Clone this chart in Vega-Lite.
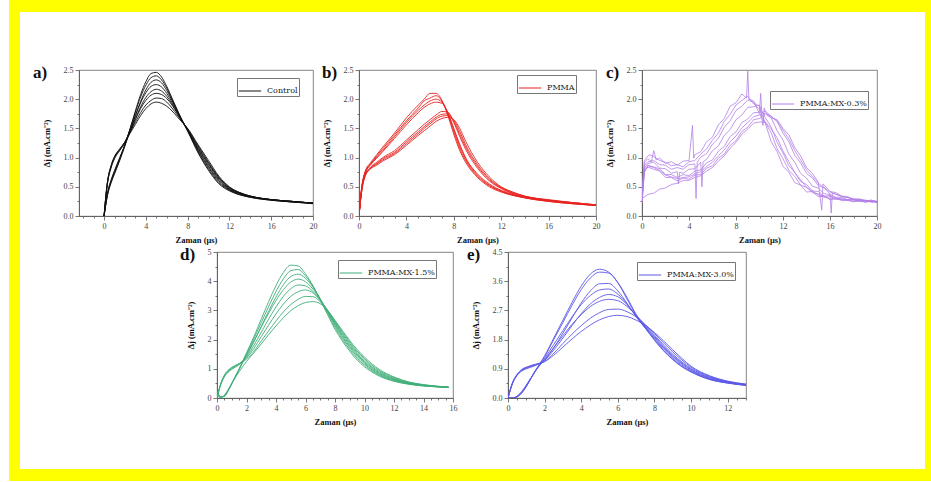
{
"$schema": "https://vega.github.io/schema/vega-lite/v6.json",
"background": "white",
"padding": {"left": 6, "top": 0, "right": 0, "bottom": 0},
"config": {
 "view": {"stroke": "#666666", "strokeWidth": 0.8},
 "axis": {"grid": false, "domainColor": "#555555", "tickColor": "#555555", "domainWidth": 0.8, "tickWidth": 0.8, "labelFont": "Liberation Serif", "labelFontSize": 8, "labelColor": "#444444", "labelPadding": 2, "labelOverlap": false, "labelFlush": false, "labelBound": false, "titleFont": "Liberation Serif", "titleFontSize": 8.5, "titleFontWeight": "bold", "titleColor": "#111111"},
 "axisX": {"titlePadding": 5},
 "axisY": {"titlePadding": 12},
 "title": {"font": "Liberation Serif", "fontSize": 17, "fontWeight": "bold", "color": "#111111", "anchor": "start", "frame": "group", "offset": 0},
 "legend": {"labelFont": "DejaVu Serif", "labelFontSize": 8, "labelColor": "#222222", "symbolType": "stroke", "symbolSize": 500, "symbolStrokeWidth": 1, "strokeColor": "#777777", "padding": 1, "labelOffset": 5}
},
"datasets": {
"a": [
{"c":1,"t":0,"j":0},{"c":1,"t":0.3,"j":0.33},{"c":1,"t":0.7,"j":0.58},{"c":1,"t":1,"j":0.72},{"c":1,"t":1.5,"j":0.95},{"c":1,"t":2,"j":1.2},{"c":1,"t":2.5,"j":1.5},{"c":1,"t":3,"j":1.8},{"c":1,"t":3.5,"j":2.08},{"c":1,"t":4,"j":2.3},{"c":1,"t":4.5,"j":2.44},{"c":1,"t":5,"j":2.46},{"c":1,"t":5.5,"j":2.38},{"c":1,"t":6,"j":2.22},{"c":1,"t":6.5,"j":2.02},{"c":1,"t":7,"j":1.82},{"c":1,"t":7.5,"j":1.62},{"c":1,"t":8,"j":1.45},{"c":1,"t":9,"j":1.08},{"c":1,"t":10,"j":0.78},{"c":1,"t":11,"j":0.55},{"c":1,"t":12,"j":0.43},{"c":1,"t":13,"j":0.36},{"c":1,"t":14,"j":0.32},{"c":1,"t":16,"j":0.27},{"c":1,"t":18,"j":0.24},{"c":1,"t":20,"j":0.21},
{"c":2,"t":0,"j":0},{"c":2,"t":0.3,"j":0.34},{"c":2,"t":0.7,"j":0.6},{"c":2,"t":1,"j":0.74},{"c":2,"t":1.5,"j":0.97},{"c":2,"t":2,"j":1.22},{"c":2,"t":2.5,"j":1.5},{"c":2,"t":3,"j":1.78},{"c":2,"t":3.5,"j":2.04},{"c":2,"t":4,"j":2.24},{"c":2,"t":4.5,"j":2.37},{"c":2,"t":5,"j":2.4},{"c":2,"t":5.5,"j":2.33},{"c":2,"t":6,"j":2.19},{"c":2,"t":6.5,"j":2.0},{"c":2,"t":7,"j":1.81},{"c":2,"t":7.5,"j":1.63},{"c":2,"t":8,"j":1.46},{"c":2,"t":9,"j":1.1},{"c":2,"t":10,"j":0.8},{"c":2,"t":11,"j":0.57},{"c":2,"t":12,"j":0.44},{"c":2,"t":13,"j":0.37},{"c":2,"t":14,"j":0.32},{"c":2,"t":16,"j":0.27},{"c":2,"t":18,"j":0.24},{"c":2,"t":20,"j":0.22},
{"c":3,"t":0,"j":0},{"c":3,"t":0.3,"j":0.52},{"c":3,"t":0.7,"j":0.84},{"c":3,"t":1,"j":0.98},{"c":3,"t":1.5,"j":1.12},{"c":3,"t":2,"j":1.26},{"c":3,"t":2.5,"j":1.48},{"c":3,"t":3,"j":1.72},{"c":3,"t":3.5,"j":1.96},{"c":3,"t":4,"j":2.16},{"c":3,"t":4.5,"j":2.29},{"c":3,"t":5,"j":2.33},{"c":3,"t":5.5,"j":2.28},{"c":3,"t":6,"j":2.15},{"c":3,"t":6.5,"j":1.98},{"c":3,"t":7,"j":1.8},{"c":3,"t":7.5,"j":1.63},{"c":3,"t":8,"j":1.47},{"c":3,"t":9,"j":1.12},{"c":3,"t":10,"j":0.83},{"c":3,"t":11,"j":0.59},{"c":3,"t":12,"j":0.45},{"c":3,"t":13,"j":0.37},{"c":3,"t":14,"j":0.33},{"c":3,"t":16,"j":0.28},{"c":3,"t":18,"j":0.24},{"c":3,"t":20,"j":0.22},
{"c":4,"t":0,"j":0},{"c":4,"t":0.3,"j":0.36},{"c":4,"t":0.7,"j":0.62},{"c":4,"t":1,"j":0.76},{"c":4,"t":1.5,"j":0.99},{"c":4,"t":2,"j":1.22},{"c":4,"t":2.5,"j":1.47},{"c":4,"t":3,"j":1.72},{"c":4,"t":3.5,"j":1.94},{"c":4,"t":4,"j":2.11},{"c":4,"t":4.5,"j":2.22},{"c":4,"t":5,"j":2.25},{"c":4,"t":5.5,"j":2.21},{"c":4,"t":6,"j":2.1},{"c":4,"t":6.5,"j":1.95},{"c":4,"t":7,"j":1.78},{"c":4,"t":7.5,"j":1.62},{"c":4,"t":8,"j":1.47},{"c":4,"t":9,"j":1.14},{"c":4,"t":10,"j":0.85},{"c":4,"t":11,"j":0.61},{"c":4,"t":12,"j":0.46},{"c":4,"t":13,"j":0.38},{"c":4,"t":14,"j":0.33},{"c":4,"t":16,"j":0.28},{"c":4,"t":18,"j":0.25},{"c":4,"t":20,"j":0.22},
{"c":5,"t":0,"j":0},{"c":5,"t":0.3,"j":0.54},{"c":5,"t":0.7,"j":0.86},{"c":5,"t":1,"j":1.0},{"c":5,"t":1.5,"j":1.13},{"c":5,"t":2,"j":1.26},{"c":5,"t":2.5,"j":1.46},{"c":5,"t":3,"j":1.67},{"c":5,"t":3.5,"j":1.87},{"c":5,"t":4,"j":2.03},{"c":5,"t":4.5,"j":2.13},{"c":5,"t":5,"j":2.17},{"c":5,"t":5.5,"j":2.14},{"c":5,"t":6,"j":2.05},{"c":5,"t":6.5,"j":1.92},{"c":5,"t":7,"j":1.77},{"c":5,"t":7.5,"j":1.62},{"c":5,"t":8,"j":1.48},{"c":5,"t":9,"j":1.16},{"c":5,"t":10,"j":0.88},{"c":5,"t":11,"j":0.63},{"c":5,"t":12,"j":0.47},{"c":5,"t":13,"j":0.39},{"c":5,"t":14,"j":0.34},{"c":5,"t":16,"j":0.28},{"c":5,"t":18,"j":0.25},{"c":5,"t":20,"j":0.22},
{"c":6,"t":0,"j":0},{"c":6,"t":0.3,"j":0.37},{"c":6,"t":0.7,"j":0.63},{"c":6,"t":1,"j":0.78},{"c":6,"t":1.5,"j":1.0},{"c":6,"t":2,"j":1.22},{"c":6,"t":2.5,"j":1.44},{"c":6,"t":3,"j":1.65},{"c":6,"t":3.5,"j":1.84},{"c":6,"t":4,"j":1.98},{"c":6,"t":4.5,"j":2.07},{"c":6,"t":5,"j":2.1},{"c":6,"t":5.5,"j":2.08},{"c":6,"t":6,"j":2.01},{"c":6,"t":6.5,"j":1.9},{"c":6,"t":7,"j":1.76},{"c":6,"t":7.5,"j":1.62},{"c":6,"t":8,"j":1.48},{"c":6,"t":9,"j":1.18},{"c":6,"t":10,"j":0.9},{"c":6,"t":11,"j":0.65},{"c":6,"t":12,"j":0.48},{"c":6,"t":13,"j":0.39},{"c":6,"t":14,"j":0.34},{"c":6,"t":16,"j":0.28},{"c":6,"t":18,"j":0.25},{"c":6,"t":20,"j":0.22},
{"c":7,"t":0,"j":0},{"c":7,"t":0.3,"j":0.55},{"c":7,"t":0.7,"j":0.87},{"c":7,"t":1,"j":1.01},{"c":7,"t":1.5,"j":1.14},{"c":7,"t":2,"j":1.27},{"c":7,"t":2.5,"j":1.44},{"c":7,"t":3,"j":1.61},{"c":7,"t":3.5,"j":1.77},{"c":7,"t":4,"j":1.9},{"c":7,"t":4.5,"j":1.98},{"c":7,"t":5,"j":2.02},{"c":7,"t":5.5,"j":2.01},{"c":7,"t":6,"j":1.95},{"c":7,"t":6.5,"j":1.85},{"c":7,"t":7,"j":1.73},{"c":7,"t":7.5,"j":1.61},{"c":7,"t":8,"j":1.49},{"c":7,"t":9,"j":1.2},{"c":7,"t":10,"j":0.92},{"c":7,"t":11,"j":0.66},{"c":7,"t":12,"j":0.49},{"c":7,"t":13,"j":0.4},{"c":7,"t":14,"j":0.34},{"c":7,"t":16,"j":0.28},{"c":7,"t":18,"j":0.25},{"c":7,"t":20,"j":0.22},
{"c":8,"t":0,"j":0},{"c":8,"t":0.3,"j":0.55},{"c":8,"t":0.7,"j":0.88},{"c":8,"t":1,"j":1.02},{"c":8,"t":1.5,"j":1.15},{"c":8,"t":2,"j":1.27},{"c":8,"t":2.5,"j":1.42},{"c":8,"t":3,"j":1.57},{"c":8,"t":3.5,"j":1.72},{"c":8,"t":4,"j":1.84},{"c":8,"t":4.5,"j":1.92},{"c":8,"t":5,"j":1.95},{"c":8,"t":5.5,"j":1.93},{"c":8,"t":6,"j":1.88},{"c":8,"t":6.5,"j":1.8},{"c":8,"t":7,"j":1.7},{"c":8,"t":7.5,"j":1.6},{"c":8,"t":8,"j":1.5},{"c":8,"t":9,"j":1.22},{"c":8,"t":10,"j":0.95},{"c":8,"t":11,"j":0.68},{"c":8,"t":12,"j":0.5},{"c":8,"t":13,"j":0.4},{"c":8,"t":14,"j":0.34},{"c":8,"t":16,"j":0.28},{"c":8,"t":18,"j":0.25},{"c":8,"t":20,"j":0.22}
],
"b": [
{"c":1,"t":0,"j":0},{"c":1,"t":0.2,"j":0.45},{"c":1,"t":0.5,"j":0.75},{"c":1,"t":1,"j":0.92},{"c":1,"t":1.5,"j":1.05},{"c":1,"t":2,"j":1.18},{"c":1,"t":3,"j":1.42},{"c":1,"t":4,"j":1.68},{"c":1,"t":5,"j":1.9},{"c":1,"t":5.5,"j":2.0},{"c":1,"t":6,"j":2.1},{"c":1,"t":6.5,"j":2.1},{"c":1,"t":7,"j":1.98},{"c":1,"t":7.5,"j":1.72},{"c":1,"t":8,"j":1.4},{"c":1,"t":8.5,"j":1.12},{"c":1,"t":9,"j":0.92},{"c":1,"t":10,"j":0.66},{"c":1,"t":11,"j":0.5},{"c":1,"t":12,"j":0.41},{"c":1,"t":13,"j":0.35},{"c":1,"t":14,"j":0.31},{"c":1,"t":16,"j":0.25},{"c":1,"t":18,"j":0.21},{"c":1,"t":20,"j":0.18},
{"c":2,"t":0,"j":0},{"c":2,"t":0.2,"j":0.44},{"c":2,"t":0.5,"j":0.74},{"c":2,"t":1,"j":0.9},{"c":2,"t":1.5,"j":1.03},{"c":2,"t":2,"j":1.15},{"c":2,"t":3,"j":1.39},{"c":2,"t":4,"j":1.63},{"c":2,"t":5,"j":1.85},{"c":2,"t":5.5,"j":1.97},{"c":2,"t":6,"j":2.02},{"c":2,"t":6.5,"j":2.06},{"c":2,"t":7,"j":1.97},{"c":2,"t":7.5,"j":1.74},{"c":2,"t":8,"j":1.44},{"c":2,"t":8.5,"j":1.16},{"c":2,"t":9,"j":0.95},{"c":2,"t":10,"j":0.68},{"c":2,"t":11,"j":0.52},{"c":2,"t":12,"j":0.42},{"c":2,"t":13,"j":0.36},{"c":2,"t":14,"j":0.31},{"c":2,"t":16,"j":0.25},{"c":2,"t":18,"j":0.21},{"c":2,"t":20,"j":0.18},
{"c":3,"t":0,"j":0},{"c":3,"t":0.2,"j":0.43},{"c":3,"t":0.5,"j":0.73},{"c":3,"t":1,"j":0.89},{"c":3,"t":1.5,"j":1.01},{"c":3,"t":2,"j":1.12},{"c":3,"t":3,"j":1.36},{"c":3,"t":4,"j":1.6},{"c":3,"t":5,"j":1.81},{"c":3,"t":5.5,"j":1.9},{"c":3,"t":6,"j":1.97},{"c":3,"t":6.5,"j":2.0},{"c":3,"t":7,"j":1.95},{"c":3,"t":7.5,"j":1.76},{"c":3,"t":8,"j":1.48},{"c":3,"t":8.5,"j":1.2},{"c":3,"t":9,"j":0.98},{"c":3,"t":10,"j":0.7},{"c":3,"t":11,"j":0.53},{"c":3,"t":12,"j":0.43},{"c":3,"t":13,"j":0.36},{"c":3,"t":14,"j":0.32},{"c":3,"t":16,"j":0.26},{"c":3,"t":18,"j":0.22},{"c":3,"t":20,"j":0.18},
{"c":4,"t":0,"j":0},{"c":4,"t":0.2,"j":0.42},{"c":4,"t":0.5,"j":0.72},{"c":4,"t":1,"j":0.88},{"c":4,"t":1.5,"j":0.99},{"c":4,"t":2,"j":1.1},{"c":4,"t":3,"j":1.33},{"c":4,"t":4,"j":1.56},{"c":4,"t":5,"j":1.77},{"c":4,"t":5.5,"j":1.86},{"c":4,"t":6,"j":1.92},{"c":4,"t":6.5,"j":1.95},{"c":4,"t":7,"j":1.93},{"c":4,"t":7.5,"j":1.77},{"c":4,"t":8,"j":1.5},{"c":4,"t":8.5,"j":1.23},{"c":4,"t":9,"j":1.0},{"c":4,"t":10,"j":0.72},{"c":4,"t":11,"j":0.55},{"c":4,"t":12,"j":0.44},{"c":4,"t":13,"j":0.37},{"c":4,"t":14,"j":0.32},{"c":4,"t":16,"j":0.26},{"c":4,"t":18,"j":0.22},{"c":4,"t":20,"j":0.18},
{"c":5,"t":0,"j":0},{"c":5,"t":0.2,"j":0.4},{"c":5,"t":0.5,"j":0.7},{"c":5,"t":1,"j":0.84},{"c":5,"t":1.5,"j":0.92},{"c":5,"t":2,"j":1.0},{"c":5,"t":3,"j":1.12},{"c":5,"t":4,"j":1.3},{"c":5,"t":5,"j":1.48},{"c":5,"t":5.5,"j":1.57},{"c":5,"t":6,"j":1.65},{"c":5,"t":6.5,"j":1.73},{"c":5,"t":7,"j":1.79},{"c":5,"t":7.5,"j":1.78},{"c":5,"t":8,"j":1.6},{"c":5,"t":8.5,"j":1.36},{"c":5,"t":9,"j":1.14},{"c":5,"t":10,"j":0.82},{"c":5,"t":11,"j":0.6},{"c":5,"t":12,"j":0.47},{"c":5,"t":13,"j":0.38},{"c":5,"t":14,"j":0.33},{"c":5,"t":16,"j":0.27},{"c":5,"t":18,"j":0.22},{"c":5,"t":20,"j":0.19},
{"c":6,"t":0,"j":0},{"c":6,"t":0.2,"j":0.4},{"c":6,"t":0.5,"j":0.69},{"c":6,"t":1,"j":0.83},{"c":6,"t":1.5,"j":0.9},{"c":6,"t":2,"j":0.98},{"c":6,"t":3,"j":1.09},{"c":6,"t":4,"j":1.27},{"c":6,"t":5,"j":1.44},{"c":6,"t":5.5,"j":1.53},{"c":6,"t":6,"j":1.61},{"c":6,"t":6.5,"j":1.69},{"c":6,"t":7,"j":1.74},{"c":6,"t":7.5,"j":1.75},{"c":6,"t":8,"j":1.62},{"c":6,"t":8.5,"j":1.4},{"c":6,"t":9,"j":1.18},{"c":6,"t":10,"j":0.85},{"c":6,"t":11,"j":0.62},{"c":6,"t":12,"j":0.48},{"c":6,"t":13,"j":0.39},{"c":6,"t":14,"j":0.33},{"c":6,"t":16,"j":0.27},{"c":6,"t":18,"j":0.23},{"c":6,"t":20,"j":0.19},
{"c":7,"t":0,"j":0},{"c":7,"t":0.2,"j":0.39},{"c":7,"t":0.5,"j":0.68},{"c":7,"t":1,"j":0.82},{"c":7,"t":1.5,"j":0.89},{"c":7,"t":2,"j":0.96},{"c":7,"t":3,"j":1.07},{"c":7,"t":4,"j":1.24},{"c":7,"t":5,"j":1.41},{"c":7,"t":5.5,"j":1.5},{"c":7,"t":6,"j":1.58},{"c":7,"t":6.5,"j":1.66},{"c":7,"t":7,"j":1.71},{"c":7,"t":7.5,"j":1.72},{"c":7,"t":8,"j":1.64},{"c":7,"t":8.5,"j":1.45},{"c":7,"t":9,"j":1.22},{"c":7,"t":10,"j":0.88},{"c":7,"t":11,"j":0.64},{"c":7,"t":12,"j":0.49},{"c":7,"t":13,"j":0.4},{"c":7,"t":14,"j":0.34},{"c":7,"t":16,"j":0.27},{"c":7,"t":18,"j":0.23},{"c":7,"t":20,"j":0.19},
{"c":8,"t":0,"j":0},{"c":8,"t":0.2,"j":0.38},{"c":8,"t":0.5,"j":0.67},{"c":8,"t":1,"j":0.81},{"c":8,"t":1.5,"j":0.87},{"c":8,"t":2,"j":0.94},{"c":8,"t":3,"j":1.05},{"c":8,"t":4,"j":1.21},{"c":8,"t":5,"j":1.38},{"c":8,"t":5.5,"j":1.46},{"c":8,"t":6,"j":1.54},{"c":8,"t":6.5,"j":1.62},{"c":8,"t":7,"j":1.67},{"c":8,"t":7.5,"j":1.69},{"c":8,"t":8,"j":1.65},{"c":8,"t":8.5,"j":1.5},{"c":8,"t":9,"j":1.28},{"c":8,"t":10,"j":0.92},{"c":8,"t":11,"j":0.67},{"c":8,"t":12,"j":0.5},{"c":8,"t":13,"j":0.41},{"c":8,"t":14,"j":0.34},{"c":8,"t":16,"j":0.28},{"c":8,"t":18,"j":0.23},{"c":8,"t":20,"j":0.19}
],
"c": [
{"c":1,"t":0,"j":0.35},{"c":1,"t":0.2,"j":0.92},{"c":1,"t":0.5,"j":0.98},{"c":1,"t":0.8,"j":0.93},{"c":1,"t":1,"j":1.12},{"c":1,"t":1.2,"j":0.96},{"c":1,"t":1.5,"j":0.99},{"c":1,"t":2,"j":0.9},{"c":1,"t":2.5,"j":0.93},{"c":1,"t":3,"j":0.87},{"c":1,"t":3.5,"j":0.94},{"c":1,"t":4,"j":0.95},{"c":1,"t":4.3,"j":1.55},{"c":1,"t":4.4,"j":0.99},{"c":1,"t":4.5,"j":1.05},{"c":1,"t":5,"j":1.1},{"c":1,"t":5.5,"j":1.27},{"c":1,"t":6,"j":1.35},{"c":1,"t":6.5,"j":1.56},{"c":1,"t":7,"j":1.67},{"c":1,"t":7.5,"j":1.88},{"c":1,"t":8,"j":1.94},{"c":1,"t":8.5,"j":2.09},{"c":1,"t":8.9,"j":2.02},{"c":1,"t":9,"j":2.48},{"c":1,"t":9.1,"j":2.0},{"c":1,"t":9.5,"j":1.97},{"c":1,"t":10,"j":1.75},{"c":1,"t":10.5,"j":1.58},{"c":1,"t":11,"j":1.27},{"c":1,"t":11.5,"j":1.1},{"c":1,"t":12,"j":0.85},{"c":1,"t":12.5,"j":0.75},{"c":1,"t":13,"j":0.57},{"c":1,"t":13.5,"j":0.53},{"c":1,"t":14,"j":0.41},{"c":1,"t":14.5,"j":0.42},{"c":1,"t":15,"j":0.33},{"c":1,"t":15.5,"j":0.34},{"c":1,"t":16,"j":0.28},{"c":1,"t":16.5,"j":0.31},{"c":1,"t":17,"j":0.26},{"c":1,"t":17.5,"j":0.28},{"c":1,"t":18,"j":0.24},{"c":1,"t":18.5,"j":0.27},{"c":1,"t":19,"j":0.23},{"c":1,"t":19.5,"j":0.26},{"c":1,"t":20,"j":0.24},
{"c":2,"t":0,"j":0.3},{"c":2,"t":0.2,"j":0.86},{"c":2,"t":0.5,"j":0.93},{"c":2,"t":1,"j":0.95},{"c":2,"t":1.5,"j":0.88},{"c":2,"t":2,"j":0.87},{"c":2,"t":2.5,"j":0.8},{"c":2,"t":3,"j":0.83},{"c":2,"t":3.5,"j":0.8},{"c":2,"t":4,"j":0.88},{"c":2,"t":4.5,"j":0.89},{"c":2,"t":4.6,"j":0.3},{"c":2,"t":4.7,"j":0.92},{"c":2,"t":5,"j":1.01},{"c":2,"t":5.5,"j":1.07},{"c":2,"t":6,"j":1.23},{"c":2,"t":6.5,"j":1.33},{"c":2,"t":7,"j":1.52},{"c":2,"t":7.5,"j":1.63},{"c":2,"t":8,"j":1.81},{"c":2,"t":8.5,"j":1.88},{"c":2,"t":9,"j":1.99},{"c":2,"t":9.5,"j":1.94},{"c":2,"t":10,"j":1.88},{"c":2,"t":10.5,"j":1.68},{"c":2,"t":11,"j":1.52},{"c":2,"t":11.5,"j":1.26},{"c":2,"t":12,"j":1.08},{"c":2,"t":12.5,"j":0.86},{"c":2,"t":13,"j":0.75},{"c":2,"t":13.5,"j":0.59},{"c":2,"t":14,"j":0.54},{"c":2,"t":14.5,"j":0.43},{"c":2,"t":15,"j":0.42},{"c":2,"t":15.5,"j":0.34},{"c":2,"t":16,"j":0.35},{"c":2,"t":16.5,"j":0.3},{"c":2,"t":17,"j":0.3},{"c":2,"t":17.5,"j":0.27},{"c":2,"t":18,"j":0.28},{"c":2,"t":18.5,"j":0.25},{"c":2,"t":19,"j":0.26},{"c":2,"t":19.5,"j":0.24},{"c":2,"t":20,"j":0.25},
{"c":3,"t":0,"j":0.28},{"c":3,"t":0.2,"j":0.82},{"c":3,"t":0.5,"j":0.9},{"c":3,"t":1,"j":0.92},{"c":3,"t":1.5,"j":0.82},{"c":3,"t":2,"j":0.81},{"c":3,"t":2.5,"j":0.73},{"c":3,"t":3,"j":0.76},{"c":3,"t":3.1,"j":0.55},{"c":3,"t":3.2,"j":0.75},{"c":3,"t":3.5,"j":0.73},{"c":3,"t":4,"j":0.8},{"c":3,"t":4.5,"j":0.81},{"c":3,"t":5,"j":0.92},{"c":3,"t":5.1,"j":0.5},{"c":3,"t":5.2,"j":0.93},{"c":3,"t":5.5,"j":0.97},{"c":3,"t":6,"j":1.12},{"c":3,"t":6.5,"j":1.2},{"c":3,"t":7,"j":1.38},{"c":3,"t":7.5,"j":1.48},{"c":3,"t":8,"j":1.65},{"c":3,"t":8.5,"j":1.73},{"c":3,"t":9,"j":1.86},{"c":3,"t":9.5,"j":1.87},{"c":3,"t":10,"j":1.9},{"c":3,"t":10.3,"j":1.55},{"c":3,"t":10.4,"j":1.85},{"c":3,"t":10.5,"j":1.78},{"c":3,"t":11,"j":1.68},{"c":3,"t":11.5,"j":1.46},{"c":3,"t":12,"j":1.3},{"c":3,"t":12.5,"j":1.06},{"c":3,"t":13,"j":0.92},{"c":3,"t":13.5,"j":0.73},{"c":3,"t":14,"j":0.65},{"c":3,"t":14.5,"j":0.51},{"c":3,"t":15,"j":0.48},{"c":3,"t":15.5,"j":0.38},{"c":3,"t":16,"j":0.37},{"c":3,"t":16.5,"j":0.32},{"c":3,"t":17,"j":0.32},{"c":3,"t":17.5,"j":0.28},{"c":3,"t":18,"j":0.29},{"c":3,"t":18.5,"j":0.26},{"c":3,"t":19,"j":0.27},{"c":3,"t":19.5,"j":0.25},{"c":3,"t":20,"j":0.25},
{"c":4,"t":0,"j":0.25},{"c":4,"t":0.2,"j":0.78},{"c":4,"t":0.5,"j":0.87},{"c":4,"t":1,"j":0.84},{"c":4,"t":1.5,"j":0.81},{"c":4,"t":2,"j":0.71},{"c":4,"t":2.5,"j":0.71},{"c":4,"t":3,"j":0.66},{"c":4,"t":3.5,"j":0.71},{"c":4,"t":4,"j":0.69},{"c":4,"t":4.5,"j":0.77},{"c":4,"t":5,"j":0.79},{"c":4,"t":5.5,"j":0.91},{"c":4,"t":6,"j":0.96},{"c":4,"t":6.5,"j":1.11},{"c":4,"t":7,"j":1.19},{"c":4,"t":7.5,"j":1.36},{"c":4,"t":8,"j":1.44},{"c":4,"t":8.5,"j":1.6},{"c":4,"t":9,"j":1.66},{"c":4,"t":9.5,"j":1.77},{"c":4,"t":10,"j":1.77},{"c":4,"t":10.1,"j":2.1},{"c":4,"t":10.2,"j":1.76},{"c":4,"t":10.5,"j":1.8},{"c":4,"t":11,"j":1.7},{"c":4,"t":11.5,"j":1.62},{"c":4,"t":12,"j":1.42},{"c":4,"t":12.5,"j":1.27},{"c":4,"t":13,"j":1.04},{"c":4,"t":13.5,"j":0.91},{"c":4,"t":14,"j":0.73},{"c":4,"t":14.5,"j":0.65},{"c":4,"t":15,"j":0.52},{"c":4,"t":15.5,"j":0.48},{"c":4,"t":16,"j":0.38},{"c":4,"t":16.1,"j":0.05},{"c":4,"t":16.2,"j":0.39},{"c":4,"t":16.5,"j":0.37},{"c":4,"t":17,"j":0.33},{"c":4,"t":17.5,"j":0.32},{"c":4,"t":18,"j":0.28},{"c":4,"t":18.5,"j":0.29},{"c":4,"t":19,"j":0.26},{"c":4,"t":19.5,"j":0.27},{"c":4,"t":20,"j":0.25},
{"c":5,"t":0,"j":0.22},{"c":5,"t":0.2,"j":0.75},{"c":5,"t":0.5,"j":0.84},{"c":5,"t":1,"j":0.8},{"c":5,"t":1.5,"j":0.77},{"c":5,"t":2,"j":0.66},{"c":5,"t":2.5,"j":0.66},{"c":5,"t":3,"j":0.6},{"c":5,"t":3.5,"j":0.65},{"c":5,"t":4,"j":0.63},{"c":5,"t":4.5,"j":0.7},{"c":5,"t":5,"j":0.71},{"c":5,"t":5.5,"j":0.82},{"c":5,"t":6,"j":0.86},{"c":5,"t":6.5,"j":0.99},{"c":5,"t":7,"j":1.06},{"c":5,"t":7.5,"j":1.21},{"c":5,"t":8,"j":1.29},{"c":5,"t":8.5,"j":1.45},{"c":5,"t":9,"j":1.52},{"c":5,"t":9.5,"j":1.65},{"c":5,"t":10,"j":1.67},{"c":5,"t":10.5,"j":1.74},{"c":5,"t":11,"j":1.68},{"c":5,"t":11.5,"j":1.65},{"c":5,"t":12,"j":1.5},{"c":5,"t":12.5,"j":1.39},{"c":5,"t":13,"j":1.17},{"c":5,"t":13.5,"j":1.03},{"c":5,"t":14,"j":0.83},{"c":5,"t":14.5,"j":0.73},{"c":5,"t":15,"j":0.58},{"c":5,"t":15.3,"j":0.1},{"c":5,"t":15.4,"j":0.55},{"c":5,"t":15.5,"j":0.53},{"c":5,"t":16,"j":0.42},{"c":5,"t":16.5,"j":0.4},{"c":5,"t":17,"j":0.34},{"c":5,"t":17.5,"j":0.33},{"c":5,"t":18,"j":0.29},{"c":5,"t":18.5,"j":0.29},{"c":5,"t":19,"j":0.26},{"c":5,"t":19.5,"j":0.27},{"c":5,"t":20,"j":0.24},
{"c":6,"t":0,"j":0.3},{"c":6,"t":0.5,"j":0.37},{"c":6,"t":1,"j":0.39},{"c":6,"t":1.5,"j":0.46},{"c":6,"t":2,"j":0.48},{"c":6,"t":2.5,"j":0.54},{"c":6,"t":3,"j":0.56},{"c":6,"t":3.5,"j":0.61},{"c":6,"t":4,"j":0.61},{"c":6,"t":4.5,"j":0.66},{"c":6,"t":5,"j":0.69},{"c":6,"t":5.5,"j":0.77},{"c":6,"t":6,"j":0.83},{"c":6,"t":6.5,"j":0.94},{"c":6,"t":7,"j":1.03},{"c":6,"t":7.5,"j":1.16},{"c":6,"t":8,"j":1.26},{"c":6,"t":8.5,"j":1.4},{"c":6,"t":9,"j":1.49},{"c":6,"t":9.5,"j":1.59},{"c":6,"t":10,"j":1.61},{"c":6,"t":10.5,"j":1.61},{"c":6,"t":11,"j":1.49},{"c":6,"t":11.5,"j":1.34},{"c":6,"t":12,"j":1.11},{"c":6,"t":12.5,"j":0.93},{"c":6,"t":13,"j":0.74},{"c":6,"t":13.5,"j":0.62},{"c":6,"t":14,"j":0.49},{"c":6,"t":14.5,"j":0.43},{"c":6,"t":15,"j":0.36},{"c":6,"t":15.5,"j":0.34},{"c":6,"t":16,"j":0.29},{"c":6,"t":17,"j":0.28},{"c":6,"t":18,"j":0.25},{"c":6,"t":19,"j":0.26},{"c":6,"t":20,"j":0.23},
{"c":7,"t":0,"j":0.32},{"c":7,"t":0.2,"j":0.95},{"c":7,"t":0.6,"j":1.05},{"c":7,"t":1,"j":1.02},{"c":7,"t":1.5,"j":0.95},{"c":7,"t":2,"j":0.92},{"c":7,"t":2.5,"j":0.86},{"c":7,"t":3,"j":0.88},{"c":7,"t":3.5,"j":0.84},{"c":7,"t":4,"j":0.93},{"c":7,"t":4.5,"j":0.95},{"c":7,"t":5,"j":1.06},{"c":7,"t":5.5,"j":1.15},{"c":7,"t":6,"j":1.3},{"c":7,"t":6.5,"j":1.42},{"c":7,"t":7,"j":1.62},{"c":7,"t":7.5,"j":1.74},{"c":7,"t":8,"j":1.9},{"c":7,"t":8.5,"j":1.98},{"c":7,"t":9,"j":2.05},{"c":7,"t":9.5,"j":1.92},{"c":7,"t":10,"j":1.83},{"c":7,"t":10.5,"j":1.6},{"c":7,"t":11,"j":1.42},{"c":7,"t":11.5,"j":1.15},{"c":7,"t":12,"j":0.98},{"c":7,"t":12.5,"j":0.78},{"c":7,"t":13,"j":0.68},{"c":7,"t":13.5,"j":0.53},{"c":7,"t":14,"j":0.49},{"c":7,"t":14.5,"j":0.4},{"c":7,"t":15,"j":0.38},{"c":7,"t":15.5,"j":0.32},{"c":7,"t":16,"j":0.33},{"c":7,"t":17,"j":0.28},{"c":7,"t":18,"j":0.27},{"c":7,"t":19,"j":0.25},{"c":7,"t":20,"j":0.24},
{"c":8,"t":0,"j":0.24},{"c":8,"t":0.2,"j":0.76},{"c":8,"t":0.5,"j":0.86},{"c":8,"t":1,"j":0.83},{"c":8,"t":1.5,"j":0.78},{"c":8,"t":2,"j":0.7},{"c":8,"t":2.5,"j":0.67},{"c":8,"t":3,"j":0.64},{"c":8,"t":3.5,"j":0.66},{"c":8,"t":4,"j":0.67},{"c":8,"t":4.5,"j":0.72},{"c":8,"t":5,"j":0.76},{"c":8,"t":5.5,"j":0.85},{"c":8,"t":6,"j":0.92},{"c":8,"t":6.5,"j":1.03},{"c":8,"t":7,"j":1.13},{"c":8,"t":7.5,"j":1.27},{"c":8,"t":8,"j":1.37},{"c":8,"t":8.5,"j":1.51},{"c":8,"t":9,"j":1.6},{"c":8,"t":9.5,"j":1.7},{"c":8,"t":10,"j":1.73},{"c":8,"t":10.5,"j":1.76},{"c":8,"t":11,"j":1.71},{"c":8,"t":11.5,"j":1.62},{"c":8,"t":12,"j":1.47},{"c":8,"t":12.5,"j":1.32},{"c":8,"t":13,"j":1.12},{"c":8,"t":13.5,"j":0.96},{"c":8,"t":14,"j":0.79},{"c":8,"t":14.5,"j":0.68},{"c":8,"t":15,"j":0.56},{"c":8,"t":15.5,"j":0.49},{"c":8,"t":16,"j":0.41},{"c":8,"t":17,"j":0.34},{"c":8,"t":18,"j":0.29},{"c":8,"t":19,"j":0.27},{"c":8,"t":20,"j":0.25}
],
"d": [
{"c":1,"t":0,"j":0.25},{"c":1,"t":0.25,"j":0.05},{"c":1,"t":0.5,"j":0.05},{"c":1,"t":0.75,"j":0.25},{"c":1,"t":1,"j":0.5},{"c":1,"t":1.5,"j":1.0},{"c":1,"t":2,"j":1.55},{"c":1,"t":2.5,"j":2.1},{"c":1,"t":3,"j":2.7},{"c":1,"t":3.5,"j":3.3},{"c":1,"t":4,"j":3.85},{"c":1,"t":4.5,"j":4.3},{"c":1,"t":5,"j":4.55},{"c":1,"t":5.5,"j":4.52},{"c":1,"t":6,"j":4.25},{"c":1,"t":6.5,"j":3.85},{"c":1,"t":7,"j":3.35},{"c":1,"t":7.5,"j":2.85},{"c":1,"t":8,"j":2.35},{"c":1,"t":8.5,"j":1.95},{"c":1,"t":9,"j":1.6},{"c":1,"t":9.5,"j":1.3},{"c":1,"t":10,"j":1.07},{"c":1,"t":11,"j":0.75},{"c":1,"t":12,"j":0.57},{"c":1,"t":13,"j":0.47},{"c":1,"t":14,"j":0.41},{"c":1,"t":15,"j":0.38},{"c":1,"t":15.7,"j":0.36},
{"c":2,"t":0,"j":0.2},{"c":2,"t":0.25,"j":0.03},{"c":2,"t":0.5,"j":0.06},{"c":2,"t":0.75,"j":0.24},{"c":2,"t":1,"j":0.48},{"c":2,"t":1.5,"j":0.97},{"c":2,"t":2,"j":1.5},{"c":2,"t":2.5,"j":2.03},{"c":2,"t":3,"j":2.58},{"c":2,"t":3.5,"j":3.13},{"c":2,"t":4,"j":3.65},{"c":2,"t":4.5,"j":4.08},{"c":2,"t":5,"j":4.36},{"c":2,"t":5.5,"j":4.4},{"c":2,"t":6,"j":4.18},{"c":2,"t":6.5,"j":3.83},{"c":2,"t":7,"j":3.38},{"c":2,"t":7.5,"j":2.9},{"c":2,"t":8,"j":2.42},{"c":2,"t":8.5,"j":2.01},{"c":2,"t":9,"j":1.66},{"c":2,"t":9.5,"j":1.36},{"c":2,"t":10,"j":1.12},{"c":2,"t":11,"j":0.78},{"c":2,"t":12,"j":0.59},{"c":2,"t":13,"j":0.48},{"c":2,"t":14,"j":0.42},{"c":2,"t":15,"j":0.38},{"c":2,"t":15.7,"j":0.36},
{"c":3,"t":0,"j":0},{"c":3,"t":0.25,"j":0.45},{"c":3,"t":0.5,"j":0.72},{"c":3,"t":0.75,"j":0.88},{"c":3,"t":1,"j":0.98},{"c":3,"t":1.5,"j":1.15},{"c":3,"t":2,"j":1.45},{"c":3,"t":2.5,"j":1.92},{"c":3,"t":3,"j":2.45},{"c":3,"t":3.5,"j":2.97},{"c":3,"t":4,"j":3.46},{"c":3,"t":4.5,"j":3.88},{"c":3,"t":5,"j":4.16},{"c":3,"t":5.5,"j":4.24},{"c":3,"t":6,"j":4.1},{"c":3,"t":6.5,"j":3.8},{"c":3,"t":7,"j":3.4},{"c":3,"t":7.5,"j":2.94},{"c":3,"t":8,"j":2.48},{"c":3,"t":8.5,"j":2.07},{"c":3,"t":9,"j":1.72},{"c":3,"t":9.5,"j":1.42},{"c":3,"t":10,"j":1.17},{"c":3,"t":11,"j":0.81},{"c":3,"t":12,"j":0.61},{"c":3,"t":13,"j":0.49},{"c":3,"t":14,"j":0.42},{"c":3,"t":15,"j":0.38},{"c":3,"t":15.7,"j":0.36},
{"c":4,"t":0,"j":0.15},{"c":4,"t":0.25,"j":0.02},{"c":4,"t":0.5,"j":0.08},{"c":4,"t":0.75,"j":0.26},{"c":4,"t":1,"j":0.5},{"c":4,"t":1.5,"j":0.98},{"c":4,"t":2,"j":1.47},{"c":4,"t":2.5,"j":1.95},{"c":4,"t":3,"j":2.43},{"c":4,"t":3.5,"j":2.9},{"c":4,"t":4,"j":3.34},{"c":4,"t":4.5,"j":3.71},{"c":4,"t":5,"j":3.97},{"c":4,"t":5.5,"j":4.07},{"c":4,"t":6,"j":3.98},{"c":4,"t":6.5,"j":3.73},{"c":4,"t":7,"j":3.38},{"c":4,"t":7.5,"j":2.97},{"c":4,"t":8,"j":2.53},{"c":4,"t":8.5,"j":2.12},{"c":4,"t":9,"j":1.77},{"c":4,"t":9.5,"j":1.47},{"c":4,"t":10,"j":1.21},{"c":4,"t":11,"j":0.84},{"c":4,"t":12,"j":0.63},{"c":4,"t":13,"j":0.5},{"c":4,"t":14,"j":0.43},{"c":4,"t":15,"j":0.39},{"c":4,"t":15.7,"j":0.37},
{"c":5,"t":0,"j":0},{"c":5,"t":0.25,"j":0.47},{"c":5,"t":0.5,"j":0.75},{"c":5,"t":0.75,"j":0.9},{"c":5,"t":1,"j":1.0},{"c":5,"t":1.5,"j":1.15},{"c":5,"t":2,"j":1.4},{"c":5,"t":2.5,"j":1.8},{"c":5,"t":3,"j":2.25},{"c":5,"t":3.5,"j":2.7},{"c":5,"t":4,"j":3.12},{"c":5,"t":4.5,"j":3.48},{"c":5,"t":5,"j":3.74},{"c":5,"t":5.5,"j":3.87},{"c":5,"t":6,"j":3.84},{"c":5,"t":6.5,"j":3.65},{"c":5,"t":7,"j":3.35},{"c":5,"t":7.5,"j":2.98},{"c":5,"t":8,"j":2.57},{"c":5,"t":8.5,"j":2.17},{"c":5,"t":9,"j":1.82},{"c":5,"t":9.5,"j":1.51},{"c":5,"t":10,"j":1.25},{"c":5,"t":11,"j":0.87},{"c":5,"t":12,"j":0.65},{"c":5,"t":13,"j":0.51},{"c":5,"t":14,"j":0.43},{"c":5,"t":15,"j":0.39},{"c":5,"t":15.7,"j":0.37},
{"c":6,"t":0,"j":0},{"c":6,"t":0.25,"j":0.48},{"c":6,"t":0.5,"j":0.77},{"c":6,"t":0.75,"j":0.93},{"c":6,"t":1,"j":1.03},{"c":6,"t":1.5,"j":1.17},{"c":6,"t":2,"j":1.37},{"c":6,"t":2.5,"j":1.7},{"c":6,"t":3,"j":2.1},{"c":6,"t":3.5,"j":2.5},{"c":6,"t":4,"j":2.88},{"c":6,"t":4.5,"j":3.22},{"c":6,"t":5,"j":3.48},{"c":6,"t":5.5,"j":3.64},{"c":6,"t":6,"j":3.7},{"c":6,"t":6.5,"j":3.6},{"c":6,"t":7,"j":3.35},{"c":6,"t":7.5,"j":3.0},{"c":6,"t":8,"j":2.6},{"c":6,"t":8.5,"j":2.22},{"c":6,"t":9,"j":1.87},{"c":6,"t":9.5,"j":1.56},{"c":6,"t":10,"j":1.3},{"c":6,"t":11,"j":0.9},{"c":6,"t":12,"j":0.67},{"c":6,"t":13,"j":0.52},{"c":6,"t":14,"j":0.44},{"c":6,"t":15,"j":0.39},{"c":6,"t":15.7,"j":0.37},
{"c":7,"t":0,"j":0},{"c":7,"t":0.25,"j":0.48},{"c":7,"t":0.5,"j":0.78},{"c":7,"t":0.75,"j":0.95},{"c":7,"t":1,"j":1.05},{"c":7,"t":1.5,"j":1.18},{"c":7,"t":2,"j":1.33},{"c":7,"t":2.5,"j":1.6},{"c":7,"t":3,"j":1.95},{"c":7,"t":3.5,"j":2.3},{"c":7,"t":4,"j":2.64},{"c":7,"t":4.5,"j":2.95},{"c":7,"t":5,"j":3.2},{"c":7,"t":5.5,"j":3.38},{"c":7,"t":6,"j":3.48},{"c":7,"t":6.5,"j":3.47},{"c":7,"t":7,"j":3.3},{"c":7,"t":7.5,"j":3.0},{"c":7,"t":8,"j":2.63},{"c":7,"t":8.5,"j":2.27},{"c":7,"t":9,"j":1.92},{"c":7,"t":9.5,"j":1.61},{"c":7,"t":10,"j":1.35},{"c":7,"t":11,"j":0.94},{"c":7,"t":12,"j":0.7},{"c":7,"t":13,"j":0.54},{"c":7,"t":14,"j":0.45},{"c":7,"t":15,"j":0.4},{"c":7,"t":15.7,"j":0.37},
{"c":8,"t":0,"j":0.1},{"c":8,"t":0.25,"j":0},{"c":8,"t":0.5,"j":0.1},{"c":8,"t":0.75,"j":0.28},{"c":8,"t":1,"j":0.5},{"c":8,"t":1.5,"j":0.9},{"c":8,"t":2,"j":1.25},{"c":8,"t":2.5,"j":1.55},{"c":8,"t":3,"j":1.85},{"c":8,"t":3.5,"j":2.17},{"c":8,"t":4,"j":2.47},{"c":8,"t":4.5,"j":2.75},{"c":8,"t":5,"j":2.99},{"c":8,"t":5.5,"j":3.16},{"c":8,"t":6,"j":3.27},{"c":8,"t":6.5,"j":3.3},{"c":8,"t":7,"j":3.23},{"c":8,"t":7.5,"j":3.0},{"c":8,"t":8,"j":2.66},{"c":8,"t":8.5,"j":2.31},{"c":8,"t":9,"j":1.97},{"c":8,"t":9.5,"j":1.66},{"c":8,"t":10,"j":1.4},{"c":8,"t":11,"j":0.98},{"c":8,"t":12,"j":0.72},{"c":8,"t":13,"j":0.55},{"c":8,"t":14,"j":0.46},{"c":8,"t":15,"j":0.4},{"c":8,"t":15.7,"j":0.37}
],
"e": [
{"c":1,"t":0,"j":0},{"c":1,"t":0.25,"j":0},{"c":1,"t":0.5,"j":0.03},{"c":1,"t":0.75,"j":0.15},{"c":1,"t":1,"j":0.35},{"c":1,"t":1.25,"j":0.6},{"c":1,"t":1.5,"j":0.85},{"c":1,"t":2,"j":1.3},{"c":1,"t":2.5,"j":1.85},{"c":1,"t":3,"j":2.4},{"c":1,"t":3.5,"j":2.95},{"c":1,"t":4,"j":3.45},{"c":1,"t":4.5,"j":3.82},{"c":1,"t":5,"j":3.97},{"c":1,"t":5.5,"j":3.88},{"c":1,"t":6,"j":3.55},{"c":1,"t":6.5,"j":3.05},{"c":1,"t":7,"j":2.55},{"c":1,"t":7.5,"j":2.15},{"c":1,"t":8,"j":1.78},{"c":1,"t":8.5,"j":1.45},{"c":1,"t":9,"j":1.18},{"c":1,"t":9.5,"j":0.96},{"c":1,"t":10,"j":0.8},{"c":1,"t":11,"j":0.57},{"c":1,"t":12,"j":0.46},{"c":1,"t":13,"j":0.39},
{"c":2,"t":0,"j":0},{"c":2,"t":0.25,"j":0},{"c":2,"t":0.5,"j":0.04},{"c":2,"t":0.75,"j":0.16},{"c":2,"t":1,"j":0.36},{"c":2,"t":1.25,"j":0.6},{"c":2,"t":1.5,"j":0.84},{"c":2,"t":2,"j":1.27},{"c":2,"t":2.5,"j":1.8},{"c":2,"t":3,"j":2.33},{"c":2,"t":3.5,"j":2.86},{"c":2,"t":4,"j":3.34},{"c":2,"t":4.5,"j":3.7},{"c":2,"t":5,"j":3.88},{"c":2,"t":5.5,"j":3.85},{"c":2,"t":6,"j":3.56},{"c":2,"t":6.5,"j":3.1},{"c":2,"t":7,"j":2.58},{"c":2,"t":7.5,"j":2.18},{"c":2,"t":8,"j":1.8},{"c":2,"t":8.5,"j":1.47},{"c":2,"t":9,"j":1.2},{"c":2,"t":9.5,"j":0.98},{"c":2,"t":10,"j":0.81},{"c":2,"t":11,"j":0.58},{"c":2,"t":12,"j":0.46},{"c":2,"t":13,"j":0.39},
{"c":3,"t":0,"j":0},{"c":3,"t":0.25,"j":0.45},{"c":3,"t":0.5,"j":0.7},{"c":3,"t":0.75,"j":0.83},{"c":3,"t":1,"j":0.9},{"c":3,"t":1.25,"j":0.95},{"c":3,"t":1.5,"j":1.0},{"c":3,"t":2,"j":1.18},{"c":3,"t":2.5,"j":1.55},{"c":3,"t":3,"j":2.0},{"c":3,"t":3.5,"j":2.47},{"c":3,"t":4,"j":2.93},{"c":3,"t":4.5,"j":3.3},{"c":3,"t":5,"j":3.52},{"c":3,"t":5.5,"j":3.53},{"c":3,"t":6,"j":3.3},{"c":3,"t":6.5,"j":2.92},{"c":3,"t":7,"j":2.5},{"c":3,"t":7.5,"j":2.15},{"c":3,"t":8,"j":1.83},{"c":3,"t":8.5,"j":1.51},{"c":3,"t":9,"j":1.24},{"c":3,"t":9.5,"j":1.01},{"c":3,"t":10,"j":0.83},{"c":3,"t":11,"j":0.59},{"c":3,"t":12,"j":0.47},{"c":3,"t":13,"j":0.4},
{"c":4,"t":0,"j":0},{"c":4,"t":0.25,"j":0},{"c":4,"t":0.5,"j":0.05},{"c":4,"t":0.75,"j":0.18},{"c":4,"t":1,"j":0.38},{"c":4,"t":1.25,"j":0.6},{"c":4,"t":1.5,"j":0.83},{"c":4,"t":2,"j":1.22},{"c":4,"t":2.5,"j":1.65},{"c":4,"t":3,"j":2.08},{"c":4,"t":3.5,"j":2.5},{"c":4,"t":4,"j":2.88},{"c":4,"t":4.5,"j":3.16},{"c":4,"t":5,"j":3.33},{"c":4,"t":5.5,"j":3.36},{"c":4,"t":6,"j":3.2},{"c":4,"t":6.5,"j":2.9},{"c":4,"t":7,"j":2.52},{"c":4,"t":7.5,"j":2.18},{"c":4,"t":8,"j":1.87},{"c":4,"t":8.5,"j":1.55},{"c":4,"t":9,"j":1.28},{"c":4,"t":9.5,"j":1.05},{"c":4,"t":10,"j":0.86},{"c":4,"t":11,"j":0.61},{"c":4,"t":12,"j":0.48},{"c":4,"t":13,"j":0.4},
{"c":5,"t":0,"j":0},{"c":5,"t":0.25,"j":0.46},{"c":5,"t":0.5,"j":0.71},{"c":5,"t":0.75,"j":0.85},{"c":5,"t":1,"j":0.92},{"c":5,"t":1.25,"j":0.97},{"c":5,"t":1.5,"j":1.02},{"c":5,"t":2,"j":1.16},{"c":5,"t":2.5,"j":1.48},{"c":5,"t":3,"j":1.85},{"c":5,"t":3.5,"j":2.23},{"c":5,"t":4,"j":2.6},{"c":5,"t":4.5,"j":2.9},{"c":5,"t":5,"j":3.1},{"c":5,"t":5.5,"j":3.19},{"c":5,"t":6,"j":3.12},{"c":5,"t":6.5,"j":2.88},{"c":5,"t":7,"j":2.54},{"c":5,"t":7.5,"j":2.21},{"c":5,"t":8,"j":1.9},{"c":5,"t":8.5,"j":1.59},{"c":5,"t":9,"j":1.31},{"c":5,"t":9.5,"j":1.08},{"c":5,"t":10,"j":0.88},{"c":5,"t":11,"j":0.63},{"c":5,"t":12,"j":0.49},{"c":5,"t":13,"j":0.41},
{"c":6,"t":0,"j":0},{"c":6,"t":0.25,"j":0},{"c":6,"t":0.5,"j":0.06},{"c":6,"t":0.75,"j":0.2},{"c":6,"t":1,"j":0.4},{"c":6,"t":1.25,"j":0.62},{"c":6,"t":1.5,"j":0.84},{"c":6,"t":2,"j":1.18},{"c":6,"t":2.5,"j":1.55},{"c":6,"t":3,"j":1.92},{"c":6,"t":3.5,"j":2.27},{"c":6,"t":4,"j":2.57},{"c":6,"t":4.5,"j":2.82},{"c":6,"t":5,"j":2.98},{"c":6,"t":5.5,"j":3.04},{"c":6,"t":6,"j":3.0},{"c":6,"t":6.5,"j":2.82},{"c":6,"t":7,"j":2.55},{"c":6,"t":7.5,"j":2.24},{"c":6,"t":8,"j":1.94},{"c":6,"t":8.5,"j":1.63},{"c":6,"t":9,"j":1.35},{"c":6,"t":9.5,"j":1.11},{"c":6,"t":10,"j":0.91},{"c":6,"t":11,"j":0.65},{"c":6,"t":12,"j":0.5},{"c":6,"t":13,"j":0.41},
{"c":7,"t":0,"j":0},{"c":7,"t":0.25,"j":0.47},{"c":7,"t":0.5,"j":0.72},{"c":7,"t":0.75,"j":0.87},{"c":7,"t":1,"j":0.94},{"c":7,"t":1.25,"j":0.99},{"c":7,"t":1.5,"j":1.03},{"c":7,"t":2,"j":1.13},{"c":7,"t":2.5,"j":1.38},{"c":7,"t":3,"j":1.68},{"c":7,"t":3.5,"j":1.97},{"c":7,"t":4,"j":2.23},{"c":7,"t":4.5,"j":2.46},{"c":7,"t":5,"j":2.63},{"c":7,"t":5.5,"j":2.73},{"c":7,"t":6,"j":2.74},{"c":7,"t":6.5,"j":2.66},{"c":7,"t":7,"j":2.5},{"c":7,"t":7.5,"j":2.26},{"c":7,"t":8,"j":1.99},{"c":7,"t":8.5,"j":1.7},{"c":7,"t":9,"j":1.42},{"c":7,"t":9.5,"j":1.17},{"c":7,"t":10,"j":0.95},{"c":7,"t":11,"j":0.67},{"c":7,"t":12,"j":0.51},{"c":7,"t":13,"j":0.42},
{"c":8,"t":0,"j":0},{"c":8,"t":0.25,"j":0.48},{"c":8,"t":0.5,"j":0.73},{"c":8,"t":0.75,"j":0.88},{"c":8,"t":1,"j":0.95},{"c":8,"t":1.25,"j":1.0},{"c":8,"t":1.5,"j":1.04},{"c":8,"t":2,"j":1.12},{"c":8,"t":2.5,"j":1.32},{"c":8,"t":3,"j":1.57},{"c":8,"t":3.5,"j":1.82},{"c":8,"t":4,"j":2.05},{"c":8,"t":4.5,"j":2.25},{"c":8,"t":5,"j":2.41},{"c":8,"t":5.5,"j":2.51},{"c":8,"t":6,"j":2.55},{"c":8,"t":6.5,"j":2.51},{"c":8,"t":7,"j":2.4},{"c":8,"t":7.5,"j":2.24},{"c":8,"t":8,"j":2.02},{"c":8,"t":8.5,"j":1.76},{"c":8,"t":9,"j":1.48},{"c":8,"t":9.5,"j":1.22},{"c":8,"t":10,"j":0.98},{"c":8,"t":11,"j":0.69},{"c":8,"t":12,"j":0.52},{"c":8,"t":13,"j":0.43}
]
},
"vconcat": [
 {"width": 922, "height": 12, "data": {"values": [{}]}, "mark": {"type": "point", "opacity": 0}, "view": {"stroke": null, "fill": "#ffff00"}},
 {"hconcat": [
  {"width": 11, "height": 457, "data": {"values": [{}]}, "mark": {"type": "point", "opacity": 0}, "view": {"stroke": null, "fill": "#ffff00"}},
  {"width": 59, "height": 1, "data": {"values": [{}]}, "mark": {"type": "point", "opacity": 0}, "view": {"stroke": null}},
  {"vconcat": [
   {"width": 1, "height": 58, "data": {"values": [{}]}, "mark": {"type": "point", "opacity": 0}, "view": {"stroke": null}},
   {"hconcat": [
    {"width": 234, "height": 146, "data": {"name": "a"},
     "title": {"text": "a)", "dx": -46, "dy": 20},
     "mark": {"type": "line", "strokeWidth": 0.9, "interpolate": "monotone", "clip": true},
     "encoding": {
      "x": {"field": "t", "type": "quantitative", "scale": {"domain": [-2.4, 20], "nice": false, "zero": false},
            "axis": {"title": "Zaman  (μs)", "values": [-2,-1,0,1,2,3,4,5,6,7,8,9,10,11,12,13,14,15,16,17,18,19,20], "format": "~g", "labelExpr": "datum.value >= 0 && datum.value % 4 === 0 ? datum.label : ''", "tickSize": {"condition": {"test": "datum.value % 4 === 0", "value": 4}, "value": 2}}},
      "y": {"field": "j", "type": "quantitative", "scale": {"domain": [0, 2.5], "nice": false},
            "axis": {"title": "Δj (mA.cm⁻²)", "values": [0,0.25,0.5,0.75,1,1.25,1.5,1.75,2,2.25,2.5], "format": ".1f", "labelExpr": "datum.value % 0.5 === 0 ? datum.label : ''", "tickSize": {"condition": {"test": "datum.value % 0.5 === 0", "value": 4}, "value": 2}}},
      "detail": {"field": "c", "type": "nominal"},
      "color": {"datum": "Control", "scale": {"range": ["#111111"]}, "legend": {"title": null, "orient": "none", "legendX": 158, "legendY": 8}}
     }},
    {"width": 237, "height": 146, "data": {"name": "b"},
     "title": {"text": "b)", "dx": -37, "dy": 20},
     "mark": {"type": "line", "strokeWidth": 0.9, "interpolate": "monotone", "clip": true},
     "encoding": {
      "x": {"field": "t", "type": "quantitative", "scale": {"domain": [0, 20], "nice": false},
            "axis": {"title": "Zaman  (μs)", "values": [0,1,2,3,4,5,6,7,8,9,10,11,12,13,14,15,16,17,18,19,20], "format": "~g", "labelExpr": "datum.value % 4 === 0 ? datum.label : ''", "tickSize": {"condition": {"test": "datum.value % 4 === 0", "value": 4}, "value": 2}}},
      "y": {"field": "j", "type": "quantitative", "scale": {"domain": [0, 2.5], "nice": false},
            "axis": {"title": "Δj (mA.cm⁻²)", "values": [0,0.25,0.5,0.75,1,1.25,1.5,1.75,2,2.25,2.5], "format": ".1f", "labelExpr": "datum.value % 0.5 === 0 ? datum.label : ''", "tickSize": {"condition": {"test": "datum.value % 0.5 === 0", "value": 4}, "value": 2}}},
      "detail": {"field": "c", "type": "nominal"},
      "color": {"datum": "PMMA", "scale": {"range": ["#e8221f"]}, "legend": {"title": null, "orient": "none", "legendX": 158, "legendY": 5}}
     }},
    {"width": 235, "height": 146, "data": {"name": "c"},
     "title": {"text": "c)", "dx": -36, "dy": 20},
     "mark": {"type": "line", "strokeWidth": 0.8, "clip": true},
     "encoding": {
      "x": {"field": "t", "type": "quantitative", "scale": {"domain": [0, 20], "nice": false},
            "axis": {"title": "Zaman  (μs)", "values": [0,1,2,3,4,5,6,7,8,9,10,11,12,13,14,15,16,17,18,19,20], "format": "~g", "labelExpr": "datum.value % 4 === 0 ? datum.label : ''", "tickSize": {"condition": {"test": "datum.value % 4 === 0", "value": 4}, "value": 2}}},
      "y": {"field": "j", "type": "quantitative", "scale": {"domain": [0, 2.5], "nice": false},
            "axis": {"title": "Δj (mA.cm⁻²)", "values": [0,0.25,0.5,0.75,1,1.25,1.5,1.75,2,2.25,2.5], "format": ".1f", "labelExpr": "datum.value % 0.5 === 0 ? datum.label : ''", "tickSize": {"condition": {"test": "datum.value % 0.5 === 0", "value": 4}, "value": 2}}},
      "detail": {"field": "c", "type": "nominal"},
      "color": {"datum": "PMMA:MX-0.3%", "scale": {"range": ["#b27fe6"]}, "legend": {"title": null, "orient": "none", "legendX": 128, "legendY": 21}}
     }}
   ], "spacing": 46, "bounds": "flush", "resolve": {"scale": {"color": "independent"}, "legend": {"color": "independent"}}},
   {"width": 1, "height": 182, "data": {"values": [{}]}, "mark": {"type": "point", "opacity": 0}, "view": {"stroke": null}},
   {"hconcat": [
    {"width": 83, "height": 1, "data": {"values": [{}]}, "mark": {"type": "point", "opacity": 0}, "view": {"stroke": null}},
    {"width": 236, "height": 146, "data": {"name": "d"},
     "title": {"text": "d)", "dx": -37, "dy": 20},
     "mark": {"type": "line", "strokeWidth": 0.9, "interpolate": "monotone", "clip": true},
     "encoding": {
      "x": {"field": "t", "type": "quantitative", "scale": {"domain": [0, 16], "nice": false},
            "axis": {"title": "Zaman  (μs)", "values": [0,0.5,1,1.5,2,2.5,3,3.5,4,4.5,5,5.5,6,6.5,7,7.5,8,8.5,9,9.5,10,10.5,11,11.5,12,12.5,13,13.5,14,14.5,15,15.5,16], "format": "~g", "labelExpr": "datum.value % 2 === 0 ? datum.label : ''", "tickSize": {"condition": {"test": "datum.value % 2 === 0", "value": 4}, "value": 2}}},
      "y": {"field": "j", "type": "quantitative", "scale": {"domain": [0, 5], "nice": false},
            "axis": {"title": "Δj (mA.cm⁻²)", "values": [0,0.5,1,1.5,2,2.5,3,3.5,4,4.5,5], "format": "~g", "labelExpr": "datum.value % 1 === 0 ? datum.label : ''", "tickSize": {"condition": {"test": "datum.value % 1 === 0", "value": 4}, "value": 2}}},
      "detail": {"field": "c", "type": "nominal"},
      "color": {"datum": "PMMA:MX-1.5%", "scale": {"range": ["#3fae78"]}, "legend": {"title": null, "orient": "none", "legendX": 121, "legendY": 8}}
     }},
    {"width": 238, "height": 146, "data": {"name": "e"},
     "title": {"text": "e)", "dx": -41, "dy": 20},
     "mark": {"type": "line", "strokeWidth": 0.9, "interpolate": "monotone", "clip": true},
     "encoding": {
      "x": {"field": "t", "type": "quantitative", "scale": {"domain": [0, 13], "nice": false},
            "axis": {"title": "Zaman  (μs)", "values": [0,0.5,1,1.5,2,2.5,3,3.5,4,4.5,5,5.5,6,6.5,7,7.5,8,8.5,9,9.5,10,10.5,11,11.5,12,12.5,13], "format": "~g", "labelExpr": "datum.value % 2 === 0 ? datum.label : ''", "tickSize": {"condition": {"test": "datum.value % 2 === 0", "value": 4}, "value": 2}}},
      "y": {"field": "j", "type": "quantitative", "scale": {"domain": [0, 4.5], "nice": false},
            "axis": {"title": "Δj (mA.cm⁻²)", "values": [0,0.45,0.9,1.35,1.8,2.25,2.7,3.15,3.6,4.05,4.5], "format": ".1f", "labelExpr": "abs(datum.value / 0.9 - round(datum.value / 0.9)) < 0.001 ? datum.label : ''", "tickSize": {"condition": {"test": "abs(datum.value / 0.9 - round(datum.value / 0.9)) < 0.001", "value": 4}, "value": 2}}},
      "detail": {"field": "c", "type": "nominal"},
      "color": {"datum": "PMMA:MX-3.0%", "scale": {"range": ["#5b58e6"]}, "legend": {"title": null, "orient": "none", "legendX": 129, "legendY": 10}}
     }}
   ], "spacing": 55, "bounds": "flush", "resolve": {"scale": {"color": "independent"}, "legend": {"color": "independent"}}}
  ], "spacing": 0, "bounds": "flush", "resolve": {"scale": {"color": "independent"}, "legend": {"color": "independent"}}},
  {"width": 846, "height": 1, "data": {"values": [{}]}, "mark": {"type": "point", "opacity": 0}, "view": {"stroke": null}},
  {"width": 6, "height": 457, "data": {"values": [{}]}, "mark": {"type": "point", "opacity": 0}, "view": {"stroke": null, "fill": "#ffff00"}}
 ], "spacing": 0, "bounds": "flush", "resolve": {"scale": {"color": "independent"}, "legend": {"color": "independent"}}},
 {"width": 1, "height": 457, "data": {"values": [{}]}, "mark": {"type": "point", "opacity": 0}, "view": {"stroke": null}},
 {"width": 922, "height": 12, "data": {"values": [{}]}, "mark": {"type": "point", "opacity": 0}, "view": {"stroke": null, "fill": "#ffff00"}}
],
"spacing": 0,
"bounds": "flush",
"resolve": {"scale": {"color": "independent"}, "legend": {"color": "independent"}}
}
